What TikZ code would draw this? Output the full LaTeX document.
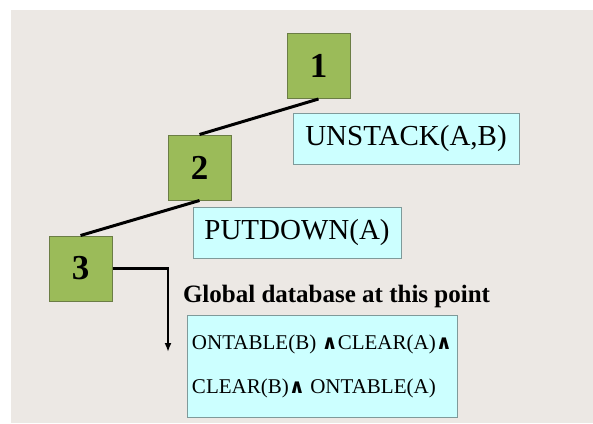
\documentclass[tikz,border=0pt]{standalone}
\usepackage{fontspec}
\setmainfont{Liberation Serif}
\newfontfamily\wedgefont{DejaVu Sans}
\usepackage{tikz}
\usetikzlibrary{arrows.meta}
\definecolor{slidebg}{HTML}{ECE8E4}
\definecolor{stepgreen}{HTML}{9BBB59}
\definecolor{stepedge}{HTML}{6B7D45}
\definecolor{opcyan}{HTML}{CCFFFF}
\definecolor{opedge}{HTML}{7F9A9A}
\newcommand{\andsym}{{\wedgefont\bfseries\fontsize{20}{20}\selectfont\char"2227}}
\tikzstyle{stepnode}=[rectangle, draw=stepedge, fill=stepgreen, line width=1pt, minimum width=63pt, minimum height=65pt, font=\bfseries\fontsize{35}{35}\selectfont]
\tikzstyle{opnode}=[rectangle, draw=opedge, fill=opcyan, line width=1pt, minimum height=51pt, font=\fontsize{29}{29}\selectfont]

\begin{document}
\begin{tikzpicture}[x=1pt, y=-1pt]
		   \useasboundingbox (0, 0) rectangle (593, 423);
		   \fill[slidebg] (11, 10) rectangle (593, 423);
		   \begin{scope}
			   \node (1) at (318.5, 66)[stepnode] {1};
			   \node (2) at (199.5, 167.5)[stepnode] {2};
			   \node (3) at (80.5, 268.5)[stepnode] {3};

			   \node (unstack) at (406, 138.5)[opnode, minimum width=226pt] {UNSTACK(A,B)};
			   \node (putdown) at (297, 232.5)[opnode, minimum width=208pt] {PUTDOWN(A)};

			   \node (dblabel) at (336.5, 296) [font=\bfseries\fontsize{25}{25}\selectfont] {Global database at this point};
			   \node (db) at (322, 366)[opnode, minimum width=270pt, minimum height=102pt, align=left, font=\fontsize{21}{44}\selectfont]
			   {ONTABLE(B) \andsym CLEAR(A)\andsym\\CLEAR(B)\andsym\ ONTABLE(A)};

			   \coordinate (dbarrow) at (168, 352);
		   \end{scope}
		   \begin{scope}[line width=3pt]
			   \path [-] (1.south) edge (2.north);
			   \path [-] (2.south) edge (3.north);
		   \end{scope}
		   \draw [-{Latex[length=9pt, width=7pt]}, line width=2.4pt] (3.east) -| (dbarrow);
	   \end{tikzpicture}
\end{document}
